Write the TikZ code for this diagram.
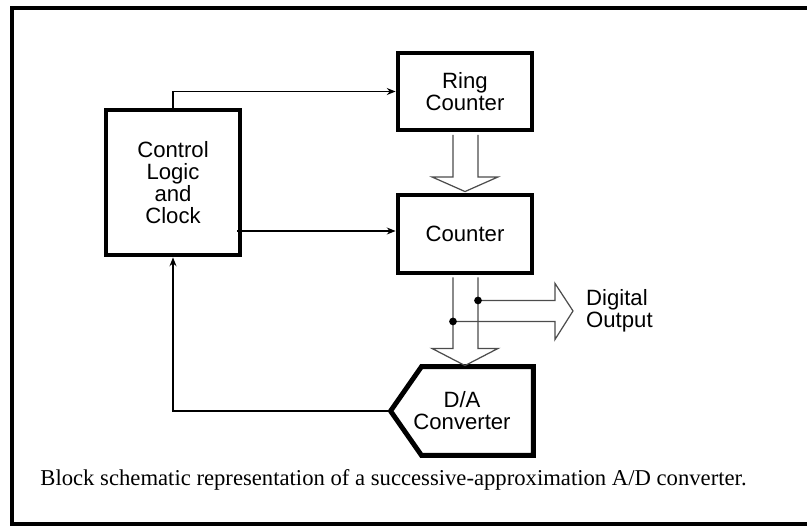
\documentclass[tikz,border=0pt]{standalone}
\usepackage{fontspec}
\setmainfont{Liberation Serif}
\newfontfamily\blockfont{Liberation Sans}
\usepackage{tikz}
\usetikzlibrary{calc,arrows.meta}
\tikzset{
  block/.style={draw, line width=2.8pt, minimum width=2.68cm, align=center,
    font=\blockfont\fontsize{12.6}{12.5}\selectfont},
  sig/.style={line width=0.6pt, -{Stealth[length=5pt,width=4pt]}},
  bus/.style={draw=black!70, line width=0.7pt, line join=miter}
}
\begin{document}
\begin{tikzpicture}[x=0.02cm,y=-0.02cm]
\useasboundingbox (0,0) rectangle (807,527);
%frame
\draw[line width=2pt] (807,8) -- (12,8) -- (12,524) -- (807,524);
%blocks
\node[block, minimum height=2.9cm] (ctrl) at (173,182.5) {Control\\Logic\\and\\Clock};
\node[block, minimum height=1.54cm] (ring) at (465,91.5) {Ring\\Counter};
\node[block, minimum height=1.56cm] (cnt) at (465,234) {Counter};
\node[block, draw=none, minimum width=2.76cm, minimum height=1.68cm] (dac) at (462,411) {D/A\\Converter};
\draw[line width=2.8pt, line join=miter] ($(dac.north west)+(31,0)$) -- (dac.north east)
  -- (dac.south east) -- ($(dac.south west)+(31,0)$) -- (dac.west) -- cycle;
%control lines
\draw[sig] (ctrl.north) |- (ring.west);
\draw[sig] ($(ctrl.east |- cnt.west)+(-5,-3)$) -- ($(cnt.west)+(0,-3)$);
\draw[sig] (dac.west) -| (ctrl.south);
%ring counter to counter
\draw[bus] ($(ring.south)+(-12,2.5)$) -- ++(0,42) -- ++(-21,0) -- ($(cnt.north)+(0,-1)$)
  -- ($(ring.south)+(33,44.5)$) -- ++(-20,0) -- ($(ring.south)+(13,2.5)$);
%counter to d/a
\draw[bus] ($(cnt.south)+(-12,2)$) -- ($(cnt.south)+(-12,73)$) -- ++(-21,0) -- ($(dac.north)+(3,-1)$)
  -- ($(cnt.south)+(33,73)$) -- ++(-20,0) -- ($(cnt.south)+(13,2)$);
%digital output
\coordinate (d1) at ($(cnt.south)+(13,25)$);
\coordinate (d2) at ($(cnt.south)+(-12,46)$);
\draw[bus] (d1) -- ++(77,0) -- ++(0,-17) -- ++(18,27.5) -- ++(-18,28.5) -- ++(0,-18) -- (d2);
\foreach \d in {d1,d2}{
  \fill (\d) circle (2.2pt);
}
\node[anchor=west, align=left, font=\blockfont\fontsize{12.6}{12.5}\selectfont] (out) at (580,311) {Digital\\Output};
%caption
\node (cap) at (393.5,480) {\fontsize{12.9}{14}\selectfont Block schematic representation of a successive-approximation A/D converter.};
\end{tikzpicture}
\end{document}
